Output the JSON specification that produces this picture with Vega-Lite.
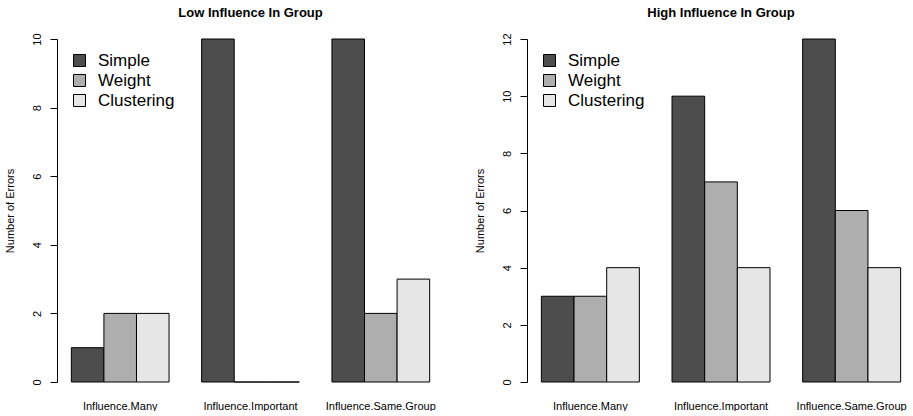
{
  "$schema": "https://vega.github.io/schema/vega-lite/v6.json",
  "padding": {"left": 4, "top": 6, "right": 5, "bottom": 0},
  "background": "white",
  "config": {
    "font": "Liberation Sans",
    "view": {"stroke": null},
    "axis": {"grid": false, "domainColor": "black", "tickColor": "black", "labelColor": "black", "titleColor": "black", "labelFont": "Liberation Sans", "titleFont": "Liberation Sans"},
    "legend": {
      "orient": "none", "title": null, "symbolType": "square", "symbolSize": 144,
      "symbolStrokeColor": "black", "symbolStrokeWidth": 1, "labelFontSize": 17,
      "labelOffset": 10, "rowPadding": 2, "labelColor": "black", "symbolOpacity": 1
    },
    "concat": {"spacing": 30}
  },
  "datasets": {
    "errs": [
      {"panel": "Low", "item": "Influence.Many", "method": "Simple", "errors": 1},
      {"panel": "Low", "item": "Influence.Many", "method": "Weight", "errors": 2},
      {"panel": "Low", "item": "Influence.Many", "method": "Clustering", "errors": 2},
      {"panel": "Low", "item": "Influence.Important", "method": "Simple", "errors": 10},
      {"panel": "Low", "item": "Influence.Important", "method": "Weight", "errors": 0},
      {"panel": "Low", "item": "Influence.Important", "method": "Clustering", "errors": 0},
      {"panel": "Low", "item": "Influence.Same.Group", "method": "Simple", "errors": 10},
      {"panel": "Low", "item": "Influence.Same.Group", "method": "Weight", "errors": 2},
      {"panel": "Low", "item": "Influence.Same.Group", "method": "Clustering", "errors": 3},
      {"panel": "High", "item": "Influence.Many", "method": "Simple", "errors": 3},
      {"panel": "High", "item": "Influence.Many", "method": "Weight", "errors": 3},
      {"panel": "High", "item": "Influence.Many", "method": "Clustering", "errors": 4},
      {"panel": "High", "item": "Influence.Important", "method": "Simple", "errors": 10},
      {"panel": "High", "item": "Influence.Important", "method": "Weight", "errors": 7},
      {"panel": "High", "item": "Influence.Important", "method": "Clustering", "errors": 4},
      {"panel": "High", "item": "Influence.Same.Group", "method": "Simple", "errors": 12},
      {"panel": "High", "item": "Influence.Same.Group", "method": "Weight", "errors": 6},
      {"panel": "High", "item": "Influence.Same.Group", "method": "Clustering", "errors": 4}
    ]
  },
  "resolve": {"scale": {"color": "independent", "y": "independent", "x": "independent", "xOffset": "independent"}, "legend": {"color": "independent"}},
  "hconcat": [
    {
      "data": {"name": "errs"},
      "transform": [{"filter": "datum.panel === 'Low'"}],
      "title": {"text": "Low Influence In Group", "fontSize": 13, "fontWeight": "bold", "frame": "group", "anchor": "middle", "offset": 13, "color": "black"},
      "width": 387,
      "height": 343,
      "mark": {"type": "bar", "stroke": "black", "strokeWidth": 1},
      "encoding": {
        "x": {"field": "item", "type": "nominal", "sort": ["Influence.Many", "Influence.Important", "Influence.Same.Group"],
              "scale": {"paddingInner": 0.25, "paddingOuter": 0.11},
              "axis": {"title": null, "domain": false, "ticks": false, "labelAngle": 0, "labelFontSize": 11, "labelPadding": 18}},
        "xOffset": {"field": "method", "type": "nominal", "sort": ["Simple", "Weight", "Clustering"], "scale": {"paddingInner": 0, "paddingOuter": 0}},
        "y": {"field": "errors", "type": "quantitative", "scale": {"domain": [0, 10], "nice": false, "zero": true},
              "axis": {"title": "Number of Errors", "values": [0, 2, 4, 6, 8, 10], "labelAngle": -90, "labelFontSize": 11, "tickSize": 7, "labelPadding": 8, "titleFontSize": 11, "titleFontWeight": "normal", "titlePadding": 16}},
        "color": {"field": "method", "type": "nominal", "sort": ["Simple", "Weight", "Clustering"],
                  "scale": {"domain": ["Simple", "Weight", "Clustering"], "range": ["#4D4D4D", "#AEAEAE", "#E6E6E6"]},
                  "legend": {"legendX": 14, "legendY": 13}}
      }
    },
    {
      "data": {"name": "errs"},
      "transform": [{"filter": "datum.panel === 'High'"}],
      "title": {"text": "High Influence In Group", "fontSize": 13, "fontWeight": "bold", "frame": "group", "anchor": "middle", "offset": 13, "color": "black"},
      "width": 388,
      "height": 343,
      "mark": {"type": "bar", "stroke": "black", "strokeWidth": 1},
      "encoding": {
        "x": {"field": "item", "type": "nominal", "sort": ["Influence.Many", "Influence.Important", "Influence.Same.Group"],
              "scale": {"paddingInner": 0.25, "paddingOuter": 0.11},
              "axis": {"title": null, "domain": false, "ticks": false, "labelAngle": 0, "labelFontSize": 11, "labelPadding": 18}},
        "xOffset": {"field": "method", "type": "nominal", "sort": ["Simple", "Weight", "Clustering"], "scale": {"paddingInner": 0, "paddingOuter": 0}},
        "y": {"field": "errors", "type": "quantitative", "scale": {"domain": [0, 12], "nice": false, "zero": true},
              "axis": {"title": "Number of Errors", "values": [0, 2, 4, 6, 8, 10, 12], "labelAngle": -90, "labelFontSize": 11, "tickSize": 7, "labelPadding": 8, "titleFontSize": 11, "titleFontWeight": "normal", "titlePadding": 16}},
        "color": {"field": "method", "type": "nominal", "sort": ["Simple", "Weight", "Clustering"],
                  "scale": {"domain": ["Simple", "Weight", "Clustering"], "range": ["#4D4D4D", "#AEAEAE", "#E6E6E6"]},
                  "legend": {"legendX": 14, "legendY": 13}}
      }
    }
  ]
}
